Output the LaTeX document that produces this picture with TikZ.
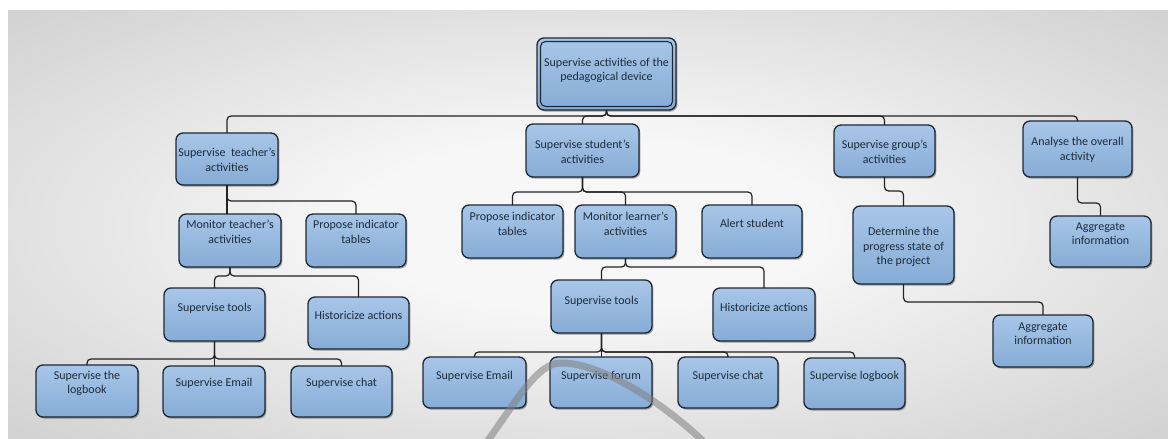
\documentclass[tikz,border=0pt]{standalone}
\usepackage{fontspec}
\setmainfont{Carlito}
\usetikzlibrary{shadows}
\definecolor{bgin}{RGB}{247,247,247}
\definecolor{bgmid}{RGB}{214,214,214}
\definecolor{bgout}{RGB}{192,192,192}
\definecolor{boxtop}{RGB}{168,198,232}
\definecolor{boxbot}{RGB}{134,172,214}
\definecolor{boxline}{RGB}{30,40,51}
\definecolor{txt}{RGB}{29,43,58}
\definecolor{connc}{RGB}{34,34,34}
\pgfdeclareradialshading{bgshade}{\pgfpoint{0bp}{0bp}}{color(0bp)=(bgin); color(10bp)=(bgin); color(32bp)=(bgmid); color(50bp)=(bgout); color(75bp)=(bgout)}
\newcommand\bx[7]{%
  \node[box, minimum width={#4-#2}, minimum height={#5-#3}] (#1) at ({(#2+#4)/2},{(#3+#5)/2}) {};
  \node[lbl] (#1-t) at (#1.north |- 0,#6) {#7};}
\begin{document}
\begin{tikzpicture}[x=1pt,y=-1pt,
  box/.style={draw=boxline, line width=1.3pt, rounded corners=7pt, top color=boxtop, bottom color=boxbot,
    inner sep=0pt, outer sep=0pt, drop shadow={shadow xshift=1.3pt, shadow yshift=-1.6pt, opacity=0.35, fill=black}},
  lbl/.style={align=center, text=txt, font=\fontsize{12}{14.5}\selectfont, inner sep=0pt},
  conn/.style={draw=connc, line width=1.2pt, rounded corners=4pt}]
\useasboundingbox (0,0) rectangle (1168,439);
\fill[white] (0,0) rectangle (1168,439);
\shade[shading=bgshade] (8,10) rectangle (1168,439);
% boxes
\bx{root}{537}{38}{676}{110}{70.5}{Supervise activities of the\\pedagogical device}
\draw[boxline, line width=1.1pt, rounded corners=5pt] ([shift={(3.5,3.5)}]root.north west) rectangle ([shift={(-3.5,-3.5)}]root.south east);
\bx{T}{176}{133}{278}{185}{160}{Supervise~ teacher’s\\activities}
\bx{S}{526}{124}{639}{177}{152}{Supervise student’s\\activities}
\bx{G}{834}{125}{935}{177}{152}{Supervise group’s\\activities}
\bx{A}{1023}{121}{1132}{177}{150}{Analyse the overall\\activity}
\bx{MT}{179}{214}{281}{267}{232}{Monitor teacher’s\\activities}
\bx{PT}{306}{214}{406}{267}{232}{Propose indicator\\tables}
\bx{TT}{164}{288}{265}{341}{308}{Supervise tools}
\bx{HT}{308}{297}{409}{349}{315}{Historicize actions}
\bx{LB}{36}{365}{138}{417}{383.5}{Supervise the\\logbook}
\bx{ET}{163}{366}{265}{417}{383}{Supervise Email}
\bx{CT}{291}{366}{392}{417}{383}{Supervise chat}
\bx{PS}{462}{205}{563}{258}{224}{Propose indicator\\tables}
\bx{ML}{575}{205}{676}{258}{224}{Monitor learner’s\\activities}
\bx{AS}{702}{205}{802}{258}{223}{Alert student}
\bx{TS}{551}{280}{652}{333}{301}{Supervise tools}
\bx{HS}{713}{288}{815}{341}{307}{Historicize actions}
\bx{EM}{423}{357}{526}{408}{376}{Supervise Email}
\bx{FO}{550}{357}{652}{408}{376}{Supervise forum}
\bx{CH}{678}{357}{778}{408}{376}{Supervise chat}
\bx{LG}{804}{358}{905}{409}{376}{Supervise logbook}
\bx{D}{853}{206}{954}{284}{247}{Determine the\\progress state of\\the project}
\bx{AGa}{1050}{216}{1151}{267}{233.5}{Aggregate\\information}
\bx{AGb}{993}{315}{1093}{367}{333.5}{Aggregate\\information}
% connectors
\foreach \c in {T,S,G,A} \draw[conn] (root.south) -- ++(0,6) -| (\c.north);
\draw[conn] (T.south) -- (T.south |- MT.north);
\draw[conn] (T.south) -- ++(0,16) -| (PT.north);
\foreach \c in {TT,HT} \draw[conn] (MT.south) -- ++(0,9) -| (\c.north);
\foreach \c in {LB,CT} \draw[conn] (TT.south) -- ++(0,18) -| (\c.north);
\draw[conn] (TT.south) -- (TT.south |- ET.north);
\foreach \c in {PS,ML,AS} \draw[conn] (S.south) -- ++(0,15) -| (\c.north);
\foreach \c in {TS,HS} \draw[conn] (ML.south) -- ++(0,9) -| (\c.north);
\foreach \c in {EM,CH,LG} \draw[conn] (TS.south) -- ++(0,19) -| (\c.north);
\draw[conn] (TS.south) -- (TS.south |- FO.north);
\draw[conn] (G.south) -- ++(0,14) -| (D.north);
\draw[conn] (D.south) -- ++(0,18) -| (AGb.north);
\draw[conn] (A.south) -- ++(0,26) -| (AGa.north);
% watermark arc
\begin{scope}
\clip (0,0) rectangle (1168,439);
\draw[line width=7pt, gray, opacity=0.55] (487,442) .. controls (520,395) and (538,364) .. (560,363) .. controls (600,362) and (662,402) .. (704,442);
\end{scope}
\end{tikzpicture}
\end{document}
